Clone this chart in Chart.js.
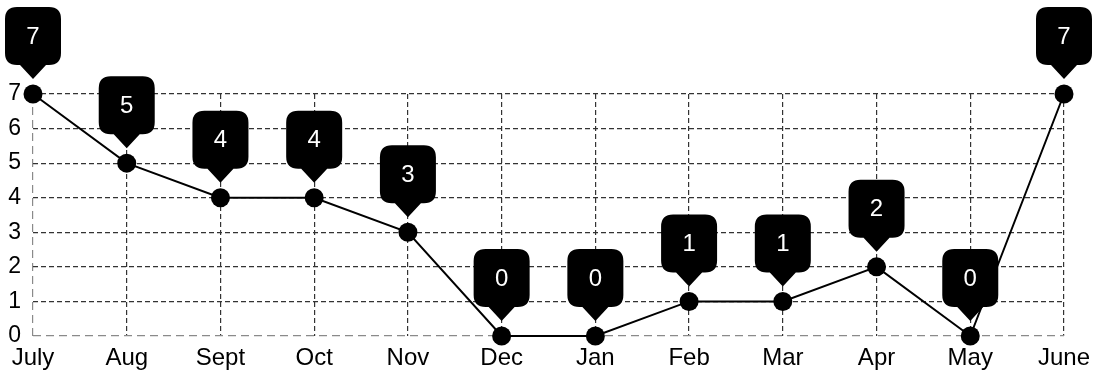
<!DOCTYPE html>
<html>
<head>
<meta charset="utf-8">
<script src="https://cdn.jsdelivr.net/npm/chart.js@4/dist/chart.umd.min.js"></script>
<style>
  html, body { margin: 0; padding: 0; background: #fff; }
  canvas { display: block; }
</style>
</head>
<body>
<canvas id="myChart" width="1105" height="377"></canvas>
<script>
const ctx = document.getElementById("myChart").getContext("2d");

const months = ["July", "Aug", "Sept", "Oct", "Nov", "Dec", "Jan", "Feb", "Mar", "Apr", "May", "June"];
const counts = [7, 5, 4, 4, 3, 0, 0, 1, 1, 2, 0, 7];
const yTicks = [0, 1, 2, 3, 4, 5, 6, 7];

const FONT = "'Liberation Sans', Arial, sans-serif";

// black speech-bubble labels above each point
const calloutPlugin = {
    id: 'callouts',
    afterDatasetsDraw(chart) {
        const c = chart.ctx;
        const meta = chart.getDatasetMeta(0);
        c.save();
        meta.data.forEach((pt, i) => {
            const px = pt.x, py = pt.y;
            const w = 56, r = 12;
            const tip = py - 15;
            const bottom = py - 29;
            const top = py - 87;
            const left = px - w / 2, right = px + w / 2;
            c.fillStyle = '#000';
            c.beginPath();
            c.moveTo(left + r, top);
            c.lineTo(right - r, top);
            c.quadraticCurveTo(right, top, right, top + r);
            c.lineTo(right, bottom - r);
            c.quadraticCurveTo(right, bottom, right - r, bottom);
            c.lineTo(px + 13, bottom);
            c.lineTo(px, tip);
            c.lineTo(px - 13, bottom);
            c.lineTo(left + r, bottom);
            c.quadraticCurveTo(left, bottom, left, bottom - r);
            c.lineTo(left, top + r);
            c.quadraticCurveTo(left, top, left + r, top);
            c.closePath();
            c.fill();
            c.fillStyle = '#fff';
            c.font = '24px ' + FONT;
            c.textAlign = 'center';
            c.textBaseline = 'middle';
            c.fillText(String(counts[i]), px, (top + bottom) / 2 + 1);
        });
        c.restore();
    }
};

const data = {
    labels: months,
    datasets: [{
        data: counts,
        borderColor: '#000',
        borderWidth: 2,
        backgroundColor: '#000',
        pointRadius: 9.5,
        pointBorderWidth: 0,
        pointBackgroundColor: '#000',
        tension: 0,
        clip: false,
    }],
};

const config = {
    type: 'line',
    data: data,
    options: {
        responsive: false,
        animation: false,
        layout: {
            padding: { top: 94, right: 41, bottom: 0, left: 0 },
        },
        scales: {
            x: {
                afterFit: (scale) => { scale.height = 41; },
                grid: {
                    drawTicks: false,
                    color: (c) => c.index === 0 ? '#8a8a8a' : '#333',
                    lineWidth: 1.2,
                },
                border: {
                    display: false,
                    dash: (c) => c.index === 0 ? [8, 5] : [5, 3],
                },
                ticks: {
                    color: '#000',
                    padding: 8,
                    maxRotation: 0,
                    autoSkip: false,
                    font: { size: 24, family: FONT },
                },
            },
            y: {
                min: 0,
                max: 7,
                afterFit: (scale) => { scale.width = 33; },
                afterBuildTicks: (scale) => { scale.ticks = yTicks.map(v => ({ value: v })); },
                grid: {
                    drawTicks: false,
                    color: (c) => c.index === 0 ? '#8a8a8a' : '#333',
                    lineWidth: 1.2,
                },
                border: {
                    display: false,
                    dash: (c) => c.index === 0 ? [8, 5] : [5, 3],
                },
                ticks: {
                    color: '#000',
                    padding: 12,
                    font: { size: 23, family: FONT },
                },
            },
        },
        plugins: {
            legend: { display: false },
            tooltip: { enabled: false },
        },
    },
    plugins: [calloutPlugin],
};

const myChart = new Chart(ctx, config);
</script>
</body>
</html>
